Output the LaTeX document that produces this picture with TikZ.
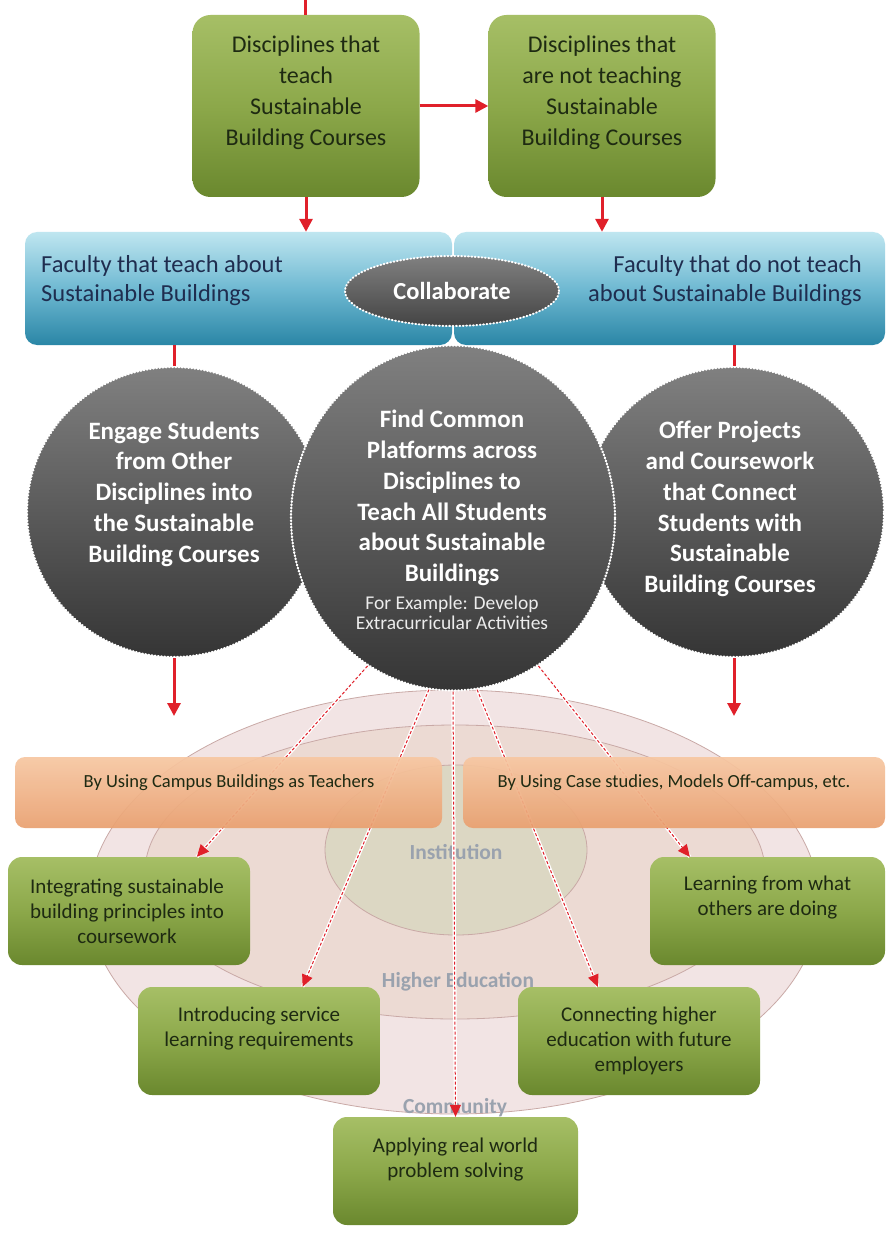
\documentclass[tikz,border=0pt]{standalone}
\usepackage{fontspec}
\setmainfont{Carlito}
\usetikzlibrary{shapes.geometric,arrows.meta,calc}
\definecolor{arrowred}{HTML}{E0202A}
\definecolor{gtop}{HTML}{A6BF66}
\definecolor{gmid}{HTML}{8CA84A}
\definecolor{gbot}{HTML}{6A882E}
\definecolor{btop}{HTML}{BFE6F0}
\definecolor{bmid}{HTML}{6FB9D2}
\definecolor{bbot}{HTML}{2A86A6}
\definecolor{ctop}{HTML}{808080}
\definecolor{cbot}{HTML}{353535}
\definecolor{otop}{HTML}{F7C7A2}
\definecolor{obot}{HTML}{E9A070}
\definecolor{ring1}{HTML}{F2E4E4}
\definecolor{ring2}{HTML}{ECDAD3}
\definecolor{ring3}{HTML}{DCD7C3}
\definecolor{ringline}{HTML}{C9A9A6}
\definecolor{labelgray}{HTML}{9AA2AE}
\definecolor{darktext}{HTML}{1E2A12}
\definecolor{navy}{HTML}{1F2D4F}
\tikzset{
  greenbox/.style={rectangle, rounded corners=18pt, top color=gtop, bottom color=gbot, middle color=gmid, draw=none, inner sep=0pt},
  bandbox/.style={rectangle, rounded corners=12pt, top color=btop, bottom color=bbot, middle color=bmid, draw=none, inner sep=0pt, minimum height=113pt},
  orangebox/.style={rectangle, rounded corners=10pt, top color=otop, bottom color=obot, draw=none, inner sep=0pt, minimum height=71pt},
  darkcircle/.style={ellipse, top color=ctop, bottom color=cbot, draw=white, line width=2.2pt, dash pattern=on 0.8pt off 2.4pt, line cap=round, inner sep=0pt},
  ring/.style={ellipse, draw=ringline, line width=0.8pt, inner sep=0pt},
  gtext/.style={align=center, inner sep=0pt, text=darktext, font=\fontsize{24}{31}\selectfont},
  stext/.style={align=center, inner sep=0pt, text=darktext, font=\fontsize{21}{25}\selectfont},
  otext/.style={align=center, inner sep=0pt, text=darktext, font=\fontsize{18.5}{22}\selectfont},
  ctext/.style={align=center, inner sep=0pt, text=white, font=\bfseries\fontsize{25}{30.7}\selectfont},
  ringlabel/.style={inner sep=0pt, text=labelgray, font=\bfseries\fontsize{21.5}{24}\selectfont},
  redarrow/.style={draw=arrowred, line width=3pt, -{Triangle[length=13pt,width=13pt]}},
  redline/.style={draw=arrowred, line width=3pt},
  dashlink/.style={draw=arrowred, line width=1pt, dash pattern=on 3pt off 2pt, -{Triangle[length=12pt,width=11pt]}, preaction={draw=white, line width=3.5pt, -, solid}}
}
\begin{document}
\begin{tikzpicture}[x=1pt,y=-1pt]
\useasboundingbox[fill=white] (0,0) rectangle (888,1241);

% rings
\node[ring, fill=ring1, minimum width=730pt, minimum height=424pt] (r1) at (454,902) {};
\node[ring, fill=ring2, minimum width=620pt, minimum height=294pt] (r2) at (455,872) {};
\node[ring, fill=ring3, minimum width=262pt, minimum height=170pt] (r3) at (456,850) {};
\node[ringlabel] (l3) at (456,852) {Institution};
\node[ringlabel] (l2) at (458,982) {Higher Education};
\node[ringlabel] (l1) at (455,1108) {Community};

% top boxes
\coordinate (topin) at (305,0);
\node[greenbox, minimum width=227pt, minimum height=182pt] (d1) at (306,106) {};
\node[greenbox, minimum width=227pt, minimum height=182pt] (d2) at (602,106) {};
\node[gtext] (d1t) at (306,93) {Disciplines that\\teach\\Sustainable\\Building Courses};
\node[gtext] (d2t) at (602,93) {Disciplines that\\are not teaching\\Sustainable\\Building Courses};

% circles
\node[darkcircle, minimum width=294pt, minimum height=290pt] (c1) at (174,512) {};
\node[darkcircle, minimum width=300pt, minimum height=290pt] (c3) at (734,512) {};
\node[darkcircle, minimum width=324pt, minimum height=345pt] (c2) at (453,518) {};
\node[ctext] (c1t) at (174,494) {Engage Students\\from Other\\Disciplines into\\the Sustainable\\Building Courses};
\node[ctext] (c3t) at (730,509) {Offer Projects\\and Coursework\\that Connect\\Students with\\Sustainable\\Building Courses};
\node[ctext] (c2t) at (452,498) {Find Common\\Platforms across\\Disciplines to\\Teach All Students\\about Sustainable\\Buildings};
\node[align=center, inner sep=0pt, text=white!85!gray, font=\fontsize{19.5}{20}\selectfont] (c2s) at (452,613) {For Example: Develop\\Extracurricular Activities};

% band
\node[bandbox, minimum width=427pt] (bl) at (238.5,288.5) {};
\node[bandbox, minimum width=431pt] (br) at (669.5,288.5) {};
\node[align=left, anchor=west, inner sep=0pt, text=navy, font=\fontsize{24.5}{29}\selectfont] (blt) at (41,281) {Faculty that teach about\\Sustainable Buildings};
\node[align=right, anchor=east, inner sep=0pt, text=navy, font=\fontsize{24.5}{29}\selectfont] (brt) at (862,281) {Faculty that do not teach\\about Sustainable Buildings};
\node[ellipse, minimum width=214pt, minimum height=70pt, inner sep=0pt, top color=ctop, bottom color=cbot!80!ctop, draw=white, line width=2pt, dash pattern=on 0.8pt off 2.6pt, line cap=round, text=white, font=\bfseries\fontsize{24.5}{26}\selectfont] (col) at (452,291) {Collaborate};

% solid red connectors
\draw[redline] (topin) -- (topin |- d1.north);
\draw[redarrow] (d1.east) -- (d2.west);
\draw[redarrow] (d1.south) -- (d1.south |- bl.north);
\draw[redarrow] (d2.south) -- (d2.south |- br.north);
\draw[redline] (c1.north |- bl.south) -- (c1.north);
\draw[redline] (c3.north |- br.south) -- (c3.north);
\coordinate (c1out) at (174,716);
\coordinate (c3out) at (734,716);
\draw[redarrow] (c1.south) -- (c1out);
\draw[redarrow] (c3.south) -- (c3out);

% green result boxes (positions)
\node[greenbox, rounded corners=14pt, minimum width=242pt, minimum height=108pt] (g1) at (129,911) {};
\node[greenbox, rounded corners=14pt, minimum width=235pt, minimum height=108pt] (g2) at (767.5,911) {};
\node[greenbox, rounded corners=14pt, minimum width=242pt, minimum height=108pt] (g3) at (259,1041) {};
\node[greenbox, rounded corners=14pt, minimum width=242pt, minimum height=108pt] (g4) at (639,1041) {};
\node[greenbox, rounded corners=14pt, minimum width=245pt, minimum height=108pt] (g5) at (455.5,1171) {};

% dashed fan
\draw[dashlink] (c2.240) -- ($(g1.north west)!0.78!(g1.north east)$);
\draw[dashlink] (c2.262) -- ($(g3.north west)!0.68!(g3.north east)$);
\draw[dashlink] (c2.south) -- (g5.north);
\draw[dashlink] (c2.278) -- ($(g4.north west)!0.33!(g4.north east)$);
\draw[dashlink] (c2.300) -- ($(g2.north west)!0.17!(g2.north east)$);

% orange boxes
\node[orangebox, minimum width=427pt, opacity=0.93] (o1) at (228.5,792.5) {};
\node[orangebox, minimum width=422pt, opacity=0.93] (o2) at (674,792.5) {};
\node[otext] (o1t) at (229,783) {By Using Campus Buildings as Teachers};
\node[otext] (o2t) at (674,783) {By Using Case studies, Models Off-campus, etc.};

% green box texts
\node[stext] (g1t) at (127,911) {Integrating sustainable\\building principles into\\coursework};
\node[stext] (g2t) at (767.5,898) {Learning from what\\others are doing};
\node[stext] (g3t) at (259,1029) {Introducing service\\learning requirements};
\node[stext] (g4t) at (639,1041) {Connecting higher\\education with future\\employers};
\node[stext] (g5t) at (455.5,1159) {Applying real world\\problem solving};
\end{tikzpicture}
\end{document}
